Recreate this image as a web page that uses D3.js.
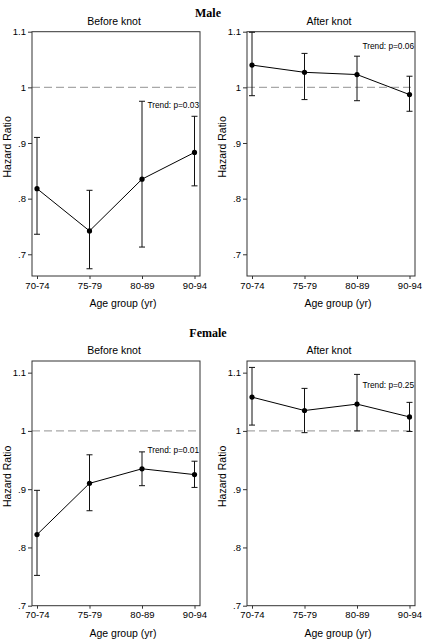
<!DOCTYPE html>
<html><head><meta charset="utf-8">
<script src="https://cdn.jsdelivr.net/npm/d3@7"></script>
<style>
html,body{margin:0;padding:0;background:#fff;}
svg{display:block;}
</style>
</head><body>
<svg id="chart" width="424" height="639"></svg>
<script>
// ---------- data ----------
const categories = ["70-74", "75-79", "80-89", "90-94"];
const yTickValues = [0.7, 0.8, 0.9, 1.0, 1.1];
const yTickLabels = [".7", ".8", ".9", "1", "1.1"];

const maleBeforeHR = [0.818, 0.742, 0.835, 0.883];
const maleBeforeLo = [0.736, 0.674, 0.713, 0.823];
const maleBeforeHi = [0.910, 0.815, 0.975, 0.948];

const maleAfterHR = [1.040, 1.027, 1.023, 0.987];
const maleAfterLo = [0.985, 0.978, 0.976, 0.957];
const maleAfterHi = [1.099, 1.061, 1.056, 1.020];

const femaleBeforeHR = [0.822, 0.910, 0.935, 0.925];
const femaleBeforeLo = [0.752, 0.863, 0.906, 0.903];
const femaleBeforeHi = [0.898, 0.959, 0.964, 0.948];

const femaleAfterHR = [1.058, 1.035, 1.046, 1.024];
const femaleAfterLo = [1.010, 0.997, 1.000, 0.999];
const femaleAfterHi = [1.109, 1.073, 1.097, 1.049];

const groupTitles = ["Male", "Female"];
const panelTitles = ["Before knot", "After knot"];
const trendLabels = ["Trend: p=0.03", "Trend: p=0.06", "Trend: p=0.01", "Trend: p=0.25"];
const xTitle = "Age group (yr)";
const yTitle = "Hazard Ratio";

// ---------- layout ----------
const svg = d3.select("#chart");
const sans = "'Liberation Sans', Arial, Helvetica, sans-serif";
const serif = "'Liberation Serif', 'Times New Roman', serif";

const cols = [{left: 32, right: 200}, {left: 247, right: 415}];
const rows = [
  {top: 31.7, bottom: 276, domain: [0.661, 1.1], titleY: 17},
  {top: 361, bottom: 605.7, domain: [0.7, 1.12], titleY: 337}
];

const panels = [
  {r: 0, c: 0, hr: maleBeforeHR, lo: maleBeforeLo, hi: maleBeforeHi, trend: trendLabels[0], trendY: 0.968},
  {r: 0, c: 1, hr: maleAfterHR, lo: maleAfterLo, hi: maleAfterHi, trend: trendLabels[1], trendY: 1.075},
  {r: 1, c: 0, hr: femaleBeforeHR, lo: femaleBeforeLo, hi: femaleBeforeHi, trend: trendLabels[2], trendY: 0.968},
  {r: 1, c: 1, hr: femaleAfterHR, lo: femaleAfterLo, hi: femaleAfterHi, trend: trendLabels[3], trendY: 1.078}
];

// group titles
rows.forEach((row, i) => {
  svg.append("text")
    .attr("x", 208).attr("y", row.titleY)
    .attr("text-anchor", "middle")
    .style("font-family", serif).style("font-weight", "bold").style("font-size", "12px")
    .attr("fill", "#000")
    .text(groupTitles[i]);
});

panels.forEach(p => {
  const row = rows[p.r], col = cols[p.c];
  const g = svg.append("g");
  const x = d3.scalePoint().domain(categories).range([col.left + 5, col.right - 5.5]);
  const y = d3.scaleLinear().domain(row.domain).range([row.bottom, row.top]);

  // panel title
  g.append("text")
    .attr("x", (col.left + col.right) / 2 - 2).attr("y", row.top - 7)
    .attr("text-anchor", "middle")
    .style("font-family", sans).style("font-size", "10.5px").attr("fill", "#000")
    .text(panelTitles[p.c]);

  // reference line at HR = 1
  g.append("line")
    .attr("x1", col.left).attr("x2", col.right)
    .attr("y1", y(1)).attr("y2", y(1))
    .attr("stroke", "#a8a8a8").attr("stroke-width", 1.4)
    .attr("stroke-dasharray", "8,4");

  // frame
  g.append("rect")
    .attr("x", col.left).attr("y", row.top)
    .attr("width", col.right - col.left).attr("height", row.bottom - row.top)
    .attr("fill", "none").attr("stroke", "#333").attr("stroke-width", 1);

  // y axis
  const yAxis = d3.axisLeft(y).tickValues(yTickValues)
    .tickFormat((d, i) => yTickLabels[i]).tickSize(4).tickPadding(2);
  const ya = g.append("g").attr("transform", `translate(${col.left},0)`).call(yAxis);
  ya.select(".domain").remove();
  ya.selectAll("line").attr("stroke", "#333");
  ya.selectAll("text").style("font-family", sans).style("font-size", "9.5px").attr("fill", "#000");

  // x axis
  const xAxis = d3.axisBottom(x).tickSize(3).tickPadding(3);
  const xa = g.append("g").attr("transform", `translate(0,${row.bottom})`).call(xAxis);
  xa.select(".domain").remove();
  xa.selectAll("line").attr("stroke", "#333");
  xa.selectAll("text").style("font-family", sans).style("font-size", "9.5px").attr("fill", "#000");

  // axis titles
  g.append("text")
    .attr("x", (col.left + col.right) / 2 + 7).attr("y", row.bottom + 31)
    .attr("text-anchor", "middle")
    .style("font-family", sans).style("font-size", "10.5px").attr("fill", "#000")
    .text(xTitle);
  g.append("text")
    .attr("transform", `translate(${col.left - 21},${(row.top + row.bottom) / 2 - 7}) rotate(-90)`)
    .attr("text-anchor", "middle")
    .style("font-family", sans).style("font-size", "10.5px").attr("fill", "#000")
    .text(yTitle);

  // error bars
  const data = categories.map((c, i) => ({c, hr: p.hr[i], lo: p.lo[i], hi: p.hi[i]}));
  const cap = 3;
  const eb = g.append("g").attr("stroke", "#111").attr("stroke-width", 1);
  data.forEach(d => {
    eb.append("line").attr("x1", x(d.c)).attr("x2", x(d.c)).attr("y1", y(d.lo)).attr("y2", y(d.hi));
    eb.append("line").attr("x1", x(d.c) - cap).attr("x2", x(d.c) + cap).attr("y1", y(d.lo)).attr("y2", y(d.lo));
    eb.append("line").attr("x1", x(d.c) - cap).attr("x2", x(d.c) + cap).attr("y1", y(d.hi)).attr("y2", y(d.hi));
  });

  // connecting line
  g.append("path").datum(data)
    .attr("d", d3.line().x(d => x(d.c)).y(d => y(d.hr)))
    .attr("fill", "none").attr("stroke", "#000").attr("stroke-width", 1);

  // points
  g.selectAll("circle.pt").data(data).join("circle")
    .attr("class", "pt")
    .attr("cx", d => x(d.c)).attr("cy", d => y(d.hr)).attr("r", 2.6)
    .attr("fill", "#000");

  // trend text
  g.append("text")
    .attr("x", col.right - 1).attr("y", y(p.trendY) + 3)
    .attr("text-anchor", "end")
    .style("font-family", sans).style("font-size", "8.3px").attr("fill", "#000")
    .text(p.trend);
});
</script>
</body></html>
